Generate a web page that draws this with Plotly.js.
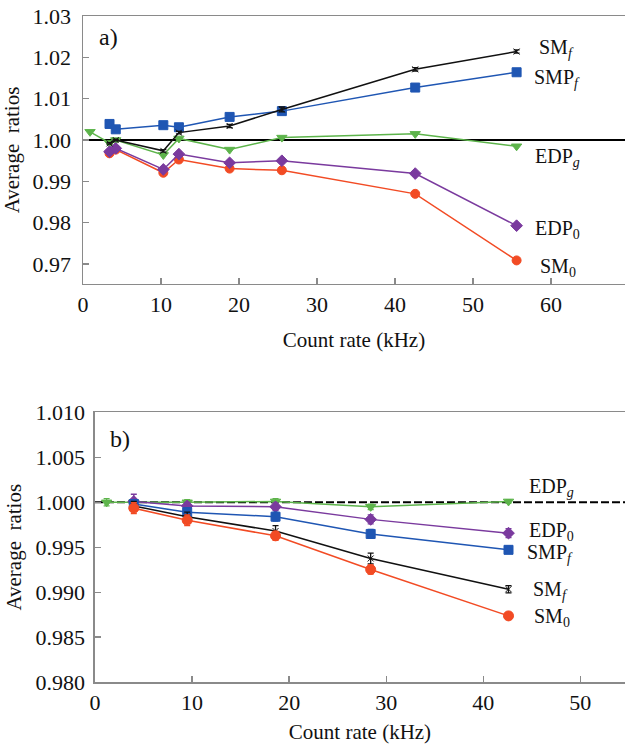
<!DOCTYPE html>
<html>
<head>
<meta charset="utf-8">
<script src="https://cdn.plot.ly/plotly-3.0.1.min.js"></script>
<style>html,body{margin:0;padding:0;background:#fff;}#chart{width:625px;height:746px;}</style>
</head>
<body>
<div id="chart"></div>
<script>
// ---------- Panel a) data ----------
const aX_SMf  = [3.4, 4.2, 10.3, 12.3, 18.8, 25.5, 42.6, 55.6];
const aY_SMf  = [0.9992, 1.0000, 0.9974, 1.0018, 1.0034, 1.0074, 1.0171, 1.0214];
const aE_SMf  = [0.0002, 0.0002, 0.0003, 0.0003, 0.0004, 0.0006, 0.0004, 0.0004];
const aX_SMPf = [3.4, 4.2, 10.3, 12.3, 18.8, 25.5, 42.6, 55.6];
const aY_SMPf = [1.0039, 1.0026, 1.0036, 1.0031, 1.0056, 1.0070, 1.0127, 1.0164];
const aX_EDPg = [0.9, 3.4, 4.2, 10.3, 12.3, 18.8, 25.5, 42.6, 55.6];
const aY_EDPg = [1.0020, 0.9993, 1.0000, 0.9964, 1.0004, 0.9977, 1.0006, 1.0015, 0.9985];
const aX_EDP0 = [3.4, 4.2, 10.3, 12.3, 18.8, 25.5, 42.6, 55.6];
const aY_EDP0 = [0.9972, 0.9980, 0.9929, 0.9966, 0.9945, 0.9950, 0.9919, 0.9793];
const aE_EDP0 = [0.0003, 0.0003, 0.0004, 0.0006, 0.0005, 0.0005, 0.0005, 0.0005];
const aX_SM0  = [3.4, 4.2, 10.3, 12.3, 18.8, 25.5, 42.6, 55.6];
const aY_SM0  = [0.9968, 0.9977, 0.9921, 0.9953, 0.9931, 0.9927, 0.9870, 0.9709];

// ---------- Panel b) data ----------
const bX      = [4.0, 9.5, 18.6, 28.4, 42.6];
const bX_EDPg = [1.2, 4.0, 9.5, 18.6, 28.4, 42.6];
const bY_EDPg = [1.0000, 1.0000, 1.0000, 1.0001, 0.9995, 1.0001];
const bE_EDPg = [0.0004, 0.0003, 0.0003, 0.0003, 0.0003, 0.0002];
const bY_EDP0 = [1.0001, 0.9996, 0.9995, 0.9981, 0.99657];
const bE_EDP0 = [0.0008, 0.0004, 0.0004, 0.0005, 0.0005];
const bY_SMPf = [0.9998, 0.9989, 0.9984, 0.99648, 0.99471];
const bE_SMPf = [0.0005, 0.0005, 0.0005, 0.0005, 0.0004];
const bY_SMf  = [0.9996, 0.9984, 0.9968, 0.99375, 0.99033];
const bE_SMf  = [0.0005, 0.0005, 0.0006, 0.0006, 0.0004];
const bY_SM0  = [0.99935, 0.9980, 0.99627, 0.99252, 0.98736];
const bE_SM0  = [0.0006, 0.0006, 0.0005, 0.0005, 0.0004];

const xTicksA = [0, 10, 20, 30, 40, 50, 60];
const yTicksA = [0.97, 0.98, 0.99, 1.00, 1.01, 1.02, 1.03];
const yTickTextA = ['0.97', '0.98', '0.99', '1.00', '1.01', '1.02', '1.03'];
const xTicksB = [0, 10, 20, 30, 40, 50];
const yTicksB = [0.980, 0.985, 0.990, 0.995, 1.000, 1.005, 1.010];
const yTickTextB = ['0.980', '0.985', '0.990', '0.995', '1.000', '1.005', '1.010'];

const C = {black:'#111111', blue:'#1f56b3', green:'#5db44b', purple:'#7a3a9e', red:'#f24b24'};
const FONT = 'Liberation Serif';

function tr(x, y, err, color, symbol, size, xa, ya) {
  const t = {x: x, y: y, type: 'scatter', mode: 'lines+markers', xaxis: xa, yaxis: ya,
    line: {color: color, width: 1.5},
    marker: {color: color, symbol: symbol, size: size, line: {color: color, width: 1}},
    showlegend: false, hoverinfo: 'skip'};
  if (err) t.error_y = {type: 'data', array: err, visible: true, color: color, thickness: 1.3, width: 3};
  return t;
}

const traces = [
  tr(aX_EDPg, aY_EDPg, null, C.green, 'triangle-down', 9, 'x', 'y'),
  tr(aX_SMPf, aY_SMPf, null, C.blue, 'square', 9, 'x', 'y'),
  tr(aX_SM0, aY_SM0, null, C.red, 'circle', 9, 'x', 'y'),
  tr(aX_EDP0, aY_EDP0, aE_EDP0, C.purple, 'diamond', 9, 'x', 'y'),
  tr(aX_SMf, aY_SMf, aE_SMf, C.black, 'x-thin-open', 6, 'x', 'y'),

  tr(bX_EDPg, bY_EDPg, bE_EDPg, C.green, 'triangle-down', 9, 'x2', 'y2'),
  tr(bX, bY_EDP0, bE_EDP0, C.purple, 'diamond', 9, 'x2', 'y2'),
  tr(bX, bY_SMPf, bE_SMPf, C.blue, 'square', 9, 'x2', 'y2'),
  tr(bX, bY_SMf, bE_SMf, C.black, 'x-thin-open', 6, 'x2', 'y2'),
  tr(bX, bY_SM0, bE_SM0, C.red, 'circle', 10, 'x2', 'y2')
];

function ax(o) {
  return Object.assign({
    showline: true, linecolor: '#8a8a8a', linewidth: 1.5, mirror: false,
    ticks: 'inside', ticklen: 6, tickwidth: 1.3, tickcolor: '#8a8a8a',
    showgrid: false, zeroline: false,
    tickfont: {family: FONT, size: 22, color: '#111'}
  }, o);
}

const layout = {
  width: 625, height: 746,
  font: {family: FONT, size: 22, color: '#111'},
  margin: {l: 83, r: 0, t: 16, b: 64},
  paper_bgcolor: '#fff', plot_bgcolor: '#fff',
  xaxis: ax({domain: [0, 1], range: [0, 69.5], tickvals: xTicksA, ticktext: xTicksA.map(String),
    anchor: 'y', mirror: true,
    title: {text: 'Count rate (kHz)', font: {family: FONT, size: 21, color: '#111'}, standoff: 16}}),
  yaxis: ax({domain: [0.5976, 1], range: [0.9652, 1.0300], tickvals: yTicksA, ticktext: yTickTextA,
    anchor: 'x', ticklabelstandoff: 6,
    title: {text: 'Average\u00a0 ratios', font: {family: FONT, size: 21, color: '#111'}, standoff: 8}}),
  xaxis2: ax({domain: [0.0221, 1], range: [0, 54.6], tickvals: xTicksB, ticktext: xTicksB.map(String),
    anchor: 'y2', mirror: true,
    title: {text: 'Count rate (kHz)', font: {family: FONT, size: 21, color: '#111'}, standoff: 10}}),
  yaxis2: ax({domain: [0, 0.4047], range: [0.980, 1.010], tickvals: yTicksB, ticktext: yTickTextB,
    anchor: 'x2', ticklabelstandoff: 4,
    title: {text: 'Average\u00a0 ratios', font: {family: FONT, size: 21, color: '#111'}, standoff: 8}}),
  shapes: [
    {type: 'line', xref: 'x domain', yref: 'y', x0: 0, x1: 1, y0: 1.0, y1: 1.0,
     line: {color: '#000', width: 2}, layer: 'below'},
    {type: 'line', xref: 'x2 domain', yref: 'y2', x0: 0, x1: 1, y0: 1.0, y1: 1.0,
     line: {color: '#000', width: 2, dash: '8px,3px'}, layer: 'below'}
  ],
  annotations: []
};

const lab = (text, xref, yref, x, y) => ({text: text, xref: xref, yref: yref, x: x, y: y,
  xanchor: 'left', yanchor: 'middle', showarrow: false,
  font: {family: FONT, size: 20, color: '#111'}});

layout.annotations.push(
  {text: 'a)', xref: 'x domain', yref: 'y domain', x: 0.025, y: 0.92, xanchor: 'left', yanchor: 'middle',
   showarrow: false, font: {family: FONT, size: 24, color: '#111'}},
  {text: 'b)', xref: 'x2 domain', yref: 'y2 domain', x: 0.025, y: 0.9, xanchor: 'left', yanchor: 'middle',
   showarrow: false, font: {family: FONT, size: 24, color: '#111'}},
  lab('SM<sub><i>f</i></sub>', 'x', 'y', 58.2, 1.0222),
  lab('SMP<sub><i>f</i></sub>', 'x', 'y', 57.6, 1.0150),
  lab('EDP<sub><i>g</i></sub>', 'x', 'y', 57.7, 0.9958),
  lab('EDP<sub>0</sub>', 'x', 'y', 57.7, 0.9784),
  lab('SM<sub>0</sub>', 'x', 'y', 58.4, 0.9693),
  lab('EDP<sub><i>g</i></sub>', 'x2', 'y2', 44.5, 1.0016),
  lab('EDP<sub>0</sub>', 'x2', 'y2', 44.5, 0.9968),
  lab('SMP<sub><i>f</i></sub>', 'x2', 'y2', 44.3, 0.99425),
  lab('SM<sub><i>f</i></sub>', 'x2', 'y2', 44.9, 0.99015),
  lab('SM<sub>0</sub>', 'x2', 'y2', 45.0, 0.98715)
);

Plotly.newPlot('chart', traces, layout, {staticPlot: true, displayModeBar: false});
</script>
</body>
</html>
